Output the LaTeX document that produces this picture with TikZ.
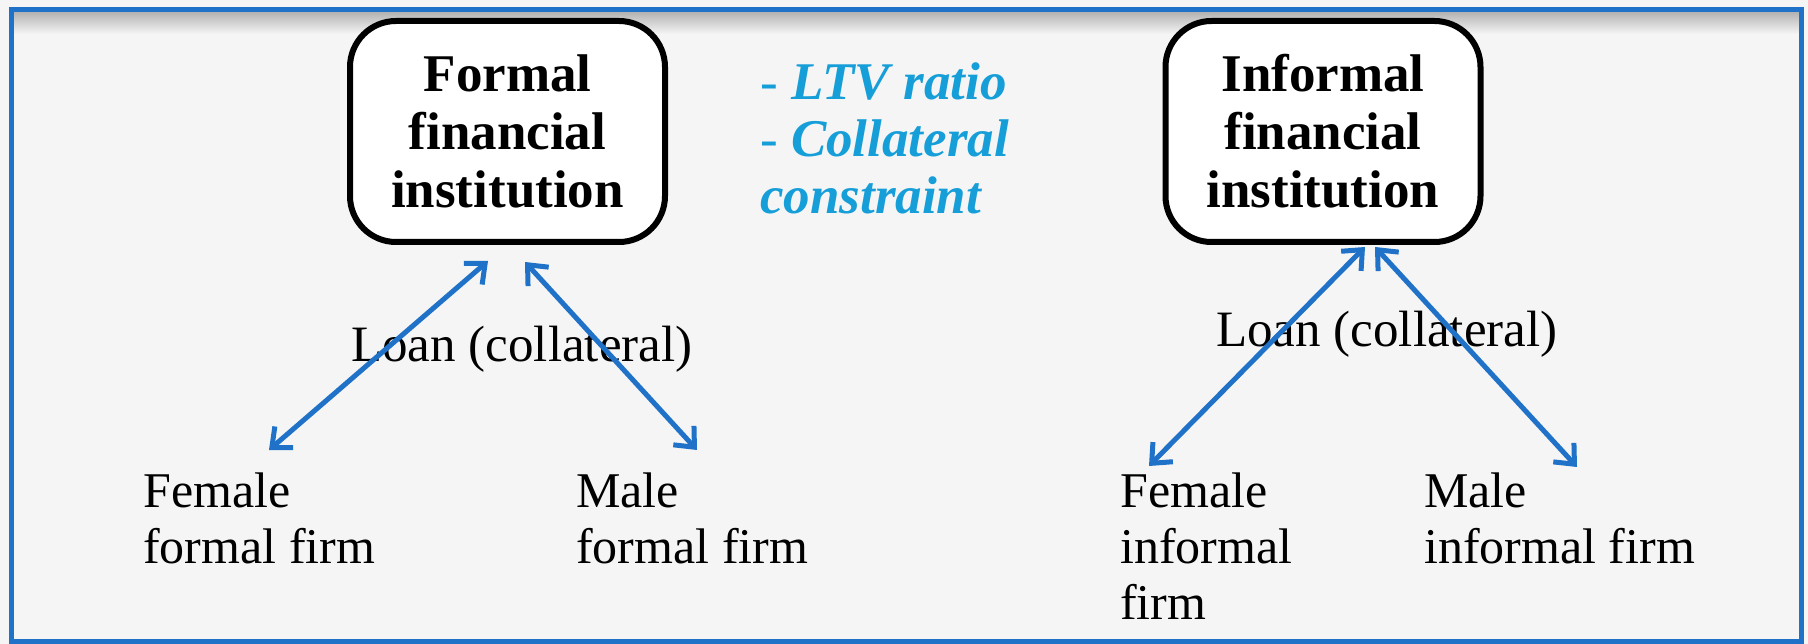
\documentclass[tikz,border=0pt]{standalone}
\usepackage{fontspec}
\setmainfont{Liberation Serif}
\usetikzlibrary{arrows.meta}
\definecolor{frameblue}{RGB}{31,114,199}
\definecolor{textblue}{RGB}{22,158,216}
\definecolor{bggray}{RGB}{245,245,245}
\tikzset{
  inst/.style={draw=black, line width=6pt, fill=white, rounded corners=46pt,
    minimum width=315pt, minimum height=221pt, align=center, inner sep=0pt,
    font=\bfseries\fontsize{53}{58}\selectfont},
  lbl/.style={align=left, anchor=north west, inner sep=0pt,
    font=\fontsize{50}{56}\selectfont},
  loanlbl/.style={anchor=base west, inner sep=0pt, font=\fontsize{51}{56}\selectfont},
  cond/.style={align=left, anchor=north west, inner sep=0pt, text=textblue,
    font=\bfseries\fontsize{53}{57}\selectfont},
  link/.style={draw=frameblue, line width=5pt,
    {Straight Barb[length=16pt,width=28pt]}-{Straight Barb[length=16pt,width=28pt]}},
}
\begin{document}
\begin{tikzpicture}[x=1pt,y=-1pt]
\useasboundingbox (0,0) rectangle (1808,644);
\fill[bggray] (0,0) rectangle (1808,644);
\shade[top color=black!30, bottom color=bggray] (13,12) rectangle (1799,34);
\draw[frameblue, line width=5pt] (11,10) rectangle (1801,641);

\node[inst] (formal) at (507.5,131.5) {Formal\\financial\\institution};
\node[inst] (informal) at (1323,131.5) {Informal\\financial\\institution};
\node[cond] (cond) at (760,63) {{\mdseries-} \textit{LTV ratio}\\{\mdseries-} \textit{Collateral}\\\textit{constraint}};

\node[lbl] (ffemale) at (143,473) {Female\\formal firm};
\node[lbl] (fmale) at (576,473) {Male\\formal firm};
\node[lbl] (ifemale) at (1120,473) {Female\\informal\\firm};
\node[lbl] (imale) at (1424,473) {Male\\informal firm};
\node[loanlbl] (loanf) at (351,362) {Loan (collateral)};
\node[loanlbl] (loani) at (1216,347) {Loan (collateral)};

\coordinate (fa) at (488,261);
\coordinate (fb) at (525,262);
\coordinate (fc) at (269,450);
\coordinate (fd) at (697,450);
\coordinate (ia) at (1365,247);
\coordinate (ib) at (1375,247);
\coordinate (ic) at (1149,466);
\coordinate (id) at (1577,467);
\draw[link] (fc) -- (fa);
\draw[link] (fb) -- (fd);
\draw[link] (ic) -- (ia);
\draw[link] (ib) -- (id);
\end{tikzpicture}
\end{document}
